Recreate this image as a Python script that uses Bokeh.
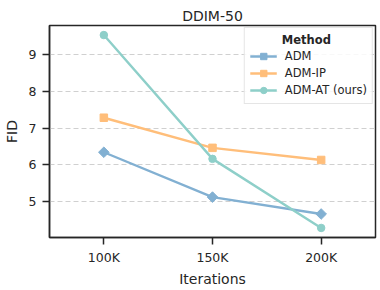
import math
from bokeh.plotting import figure
from bokeh.models import FixedTicker, Range1d, Legend, LegendItem
from bokeh.embed import file_html
from bokeh.resources import INLINE

iterations = [100, 150, 200]
tick_labels = ["100K", "150K", "200K"]
adm = [6.34, 5.12, 4.66]
adm_ip = [7.28, 6.46, 6.13]
adm_at = [9.53, 6.16, 4.28]

FONT = "DejaVu Sans"
DARK = "#262626"

p = figure(width=380, height=290, output_backend="svg", toolbar_location=None,
           x_range=Range1d(75, 225), y_range=Range1d(4.02, 9.79),
           min_border_left=48, min_border_right=5, min_border_top=25, min_border_bottom=53)
p.title.text = "DDIM-50"
p.title.align = "center"
p.title.text_font = FONT
p.title.text_font_size = "14px"
p.title.text_font_style = "normal"
p.title.text_color = DARK
p.title.standoff = 4

r1 = p.line(iterations, adm, line_color="#82B0D2", line_width=2.4)
m1 = p.scatter(iterations, adm, marker="square", angle=math.pi / 4, size=7.5, color="#82B0D2")
r2 = p.line(iterations, adm_ip, line_color="#FFBE7A", line_width=2.4)
m2 = p.scatter(iterations, adm_ip, marker="square", size=7.5, color="#FFBE7A")
r3 = p.line(iterations, adm_at, line_color="#8ECFC9", line_width=2.4)
m3 = p.scatter(iterations, adm_at, marker="circle", size=7.5, color="#8ECFC9")

legend = Legend(items=[LegendItem(label="ADM", renderers=[r1, m1]),
                       LegendItem(label="ADM-IP", renderers=[r2, m2]),
                       LegendItem(label="ADM-AT (ours)", renderers=[r3, m3])],
                location="top_right")
# leading no-break spaces centre the title over the entries
legend.title = "\u00a0" * 8 + "Method"
legend.title_text_font = FONT
legend.title_text_font_style = "bold"
legend.title_text_font_size = "11.5px"
legend.title_text_color = DARK
legend.title_standoff = 1
legend.label_text_font = FONT
legend.label_text_font_size = "11.5px"
legend.label_text_color = DARK
legend.border_line_color = "#cccccc"
legend.border_line_width = 1.2
legend.background_fill_alpha = 0.85
legend.glyph_width = 27
legend.glyph_height = 16
legend.spacing = 1
legend.padding = 5
legend.margin = 2
legend.label_height = 16
legend.label_standoff = 8
p.add_layout(legend)

p.xaxis.ticker = FixedTicker(ticks=iterations)
p.xaxis.major_label_overrides = {t: l for t, l in zip(iterations, tick_labels)}
p.yaxis.ticker = FixedTicker(ticks=[5, 6, 7, 8, 9])
for ax in (p.xaxis, p.yaxis):
    ax.major_tick_in = 0
    ax.major_tick_out = 7
    ax.minor_tick_out = 0
    ax.minor_tick_in = 0
    ax.major_tick_line_width = 1.5
    ax.major_tick_line_color = DARK
    ax.axis_line_width = 1.5
    ax.axis_line_color = DARK
    ax.major_label_text_font = FONT
    ax.major_label_text_font_size = "12.5px"
    ax.major_label_text_color = DARK
    ax.axis_label_text_font = FONT
    ax.axis_label_text_font_size = "14px"
    ax.axis_label_text_font_style = "normal"
    ax.axis_label_text_color = DARK
p.xaxis.axis_label = "Iterations"
p.yaxis.axis_label = "FID"
p.xaxis.major_label_standoff = 5
p.yaxis.major_label_standoff = 6
p.xaxis.axis_label_standoff = 3
p.yaxis.axis_label_standoff = 6

p.xgrid.grid_line_color = None
p.ygrid.grid_line_color = "#d0d0d0"
p.ygrid.grid_line_dash = "5 3"
p.ygrid.grid_line_width = 1.2
p.outline_line_color = DARK
p.outline_line_width = 1.5
p.outline_line_alpha = 1

open("out.html", "w").write(file_html(p, INLINE))
